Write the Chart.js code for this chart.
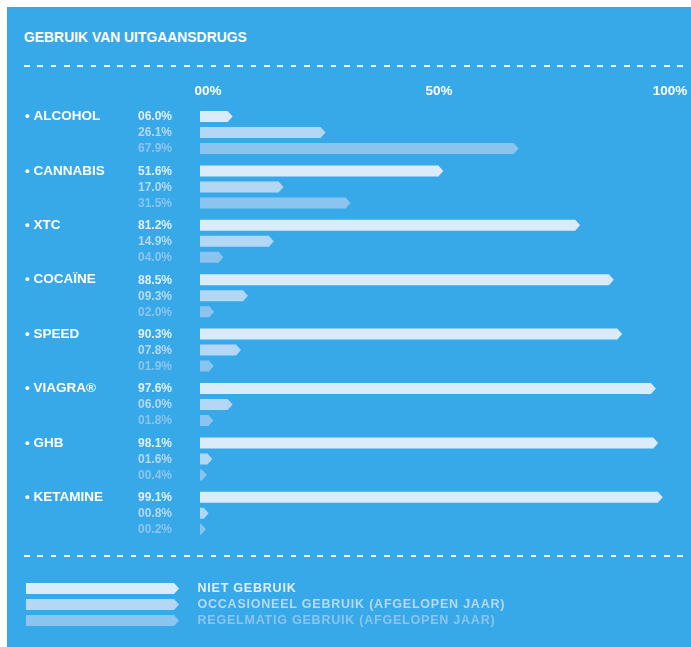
<!DOCTYPE html>
<html>
<head>
<meta charset="utf-8">
<script src="https://cdn.jsdelivr.net/npm/chart.js@4/dist/chart.umd.min.js"></script>
<style>
  html, body { margin: 0; padding: 0; background: #ffffff; }
  body { width: 691px; height: 647px; position: relative; overflow: hidden; font-family: "Liberation Sans", Arial, sans-serif; }
  #panel { position: absolute; left: 7px; top: 7px; right: 0; bottom: 0; background: #37A8E8; }
  #title { position: absolute; left: 24px; top: 29px; font-size: 13.9px; line-height: 16px; font-weight: bold; color: #ffffff; white-space: nowrap; }
  .dash { position: absolute; left: 24px; width: 664px; height: 2px;
          background: repeating-linear-gradient(to right, rgba(255,255,255,0.95) 0 5.7px, transparent 5.7px 13.33px); }
  #c { position: absolute; left: 0; top: 0; }
  .lg { position: absolute; left: 26px; height: 11px; width: 560px; }
  .lg .arrow { position: absolute; left: 0; top: 0; width: 153px; height: 11px;
               clip-path: polygon(0 0, calc(100% - 5px) 0, 100% 50%, calc(100% - 5px) 100%, 0 100%); }
  .lg .txt { position: absolute; left: 171.5px; top: -2px; line-height: 15px; font-size: 12.5px; letter-spacing: 0.78px; font-weight: bold; white-space: nowrap; }
</style>
</head>
<body>
<div id="panel"></div>
<div id="title">GEBRUIK VAN UITGAANSDRUGS</div>
<div class="dash" style="top:64.5px"></div>
<div class="dash" style="top:554.5px"></div>
<canvas id="c" width="691" height="647"></canvas>
<div id="legend"></div>
<script>
const categories = ['ALCOHOL', 'CANNABIS', 'XTC', 'COCAÏNE', 'SPEED', 'VIAGRA®', 'GHB', 'KETAMINE'];
const nietGebruik = [6.0, 51.6, 81.2, 88.5, 90.3, 97.6, 98.1, 99.1];
const occasioneel = [26.1, 17.0, 14.9, 9.3, 7.8, 6.0, 1.6, 0.8];
const regelmatig = [67.9, 31.5, 4.0, 2.0, 1.9, 1.8, 0.4, 0.2];
const seriesNames = ['NIET GEBRUIK', 'OCCASIONEEL GEBRUIK (AFGELOPEN JAAR)', 'REGELMATIG GEBRUIK (AFGELOPEN JAAR)'];
const tickLabels = ['00%', '50%', '100%'];

const barColors = ['#DAEBF9', '#B3D7F5', '#8CC4F0'];
const textColors = ['#E0EFFB', '#B6D9F5', '#8CC5F0'];
const FONT = '"Liberation Sans", Arial, sans-serif';

function fmt(v) { return v.toFixed(1).padStart(4, '0') + '%'; }

const arrowPlugin = {
  id: 'arrowTips',
  afterDatasetsDraw(chart) {
    const ctx = chart.ctx;
    ctx.save();
    chart.data.datasets.forEach((ds, di) => {
      const meta = chart.getDatasetMeta(di);
      meta.data.forEach((bar, i) => {
        const p = bar.getProps(['x', 'y', 'height'], true);
        const h = p.height;
        const tip = h / 2 * 0.9;
        ctx.fillStyle = ds.backgroundColor;
        ctx.beginPath();
        ctx.moveTo(p.x - 0.5, p.y - h / 2);
        ctx.lineTo(p.x, p.y - h / 2);
        ctx.lineTo(p.x + tip, p.y);
        ctx.lineTo(p.x, p.y + h / 2);
        ctx.lineTo(p.x - 0.5, p.y + h / 2);
        ctx.closePath();
        ctx.fill();
        ctx.fillStyle = ds.labelColor;
        ctx.font = 'bold 12px ' + FONT;
        ctx.textAlign = 'left';
        ctx.textBaseline = 'middle';
        ctx.fillText(fmt(ds.data[i]), chart.chartArea.left - 62, p.y + 0.5);
      });
    });
    ctx.restore();
  }
};

const datasets = [nietGebruik, occasioneel, regelmatig].map((d, i) => ({
  label: seriesNames[i],
  data: d,
  backgroundColor: barColors[i],
  labelColor: textColors[i],
  borderWidth: 0,
  categoryPercentage: 48 / 54.4,
  barPercentage: 11 / 16
}));

new Chart(document.getElementById('c'), {
  type: 'bar',
  data: { labels: categories, datasets },
  options: {
    indexAxis: 'y',
    responsive: false,
    animation: false,
    layout: { padding: { left: 25, right: 29, top: 85.3, bottom: 106.5 } },
    plugins: { legend: { display: false }, tooltip: { enabled: false } },
    scales: {
      x: {
        position: 'top',
        min: 0, max: 100,
        grid: { display: false, drawTicks: false },
        border: { display: false },
        afterFit(s) { s.height = 20; },
        ticks: {
          stepSize: 50,
          padding: 6,
          labelOffset: 8,
          color: '#FFFFFF',
          font: { family: FONT, size: 13.5, weight: 'bold' },
          callback: (v, i) => tickLabels[i]
        }
      },
      y: {
        grid: { display: false, drawTicks: false },
        border: { display: false },
        afterFit(s) { s.width = 175; },
        ticks: {
          autoSkip: false,
          crossAlign: 'far',
          labelOffset: -16,
          color: '#FFFFFF',
          font: { family: FONT, size: 13.5, weight: 'bold' },
          callback: (v, i) => '• ' + categories[i]
        }
      }
    }
  },
  plugins: [arrowPlugin]
});

const legend = document.getElementById('legend');
seriesNames.forEach((name, i) => {
  const row = document.createElement('div');
  row.className = 'lg';
  row.style.top = (583 + 16 * i) + 'px';
  const a = document.createElement('div');
  a.className = 'arrow';
  a.style.background = barColors[i];
  const t = document.createElement('div');
  t.className = 'txt';
  t.style.color = textColors[i];
  t.textContent = name;
  row.appendChild(a);
  row.appendChild(t);
  legend.appendChild(row);
});
</script>
</body>
</html>
